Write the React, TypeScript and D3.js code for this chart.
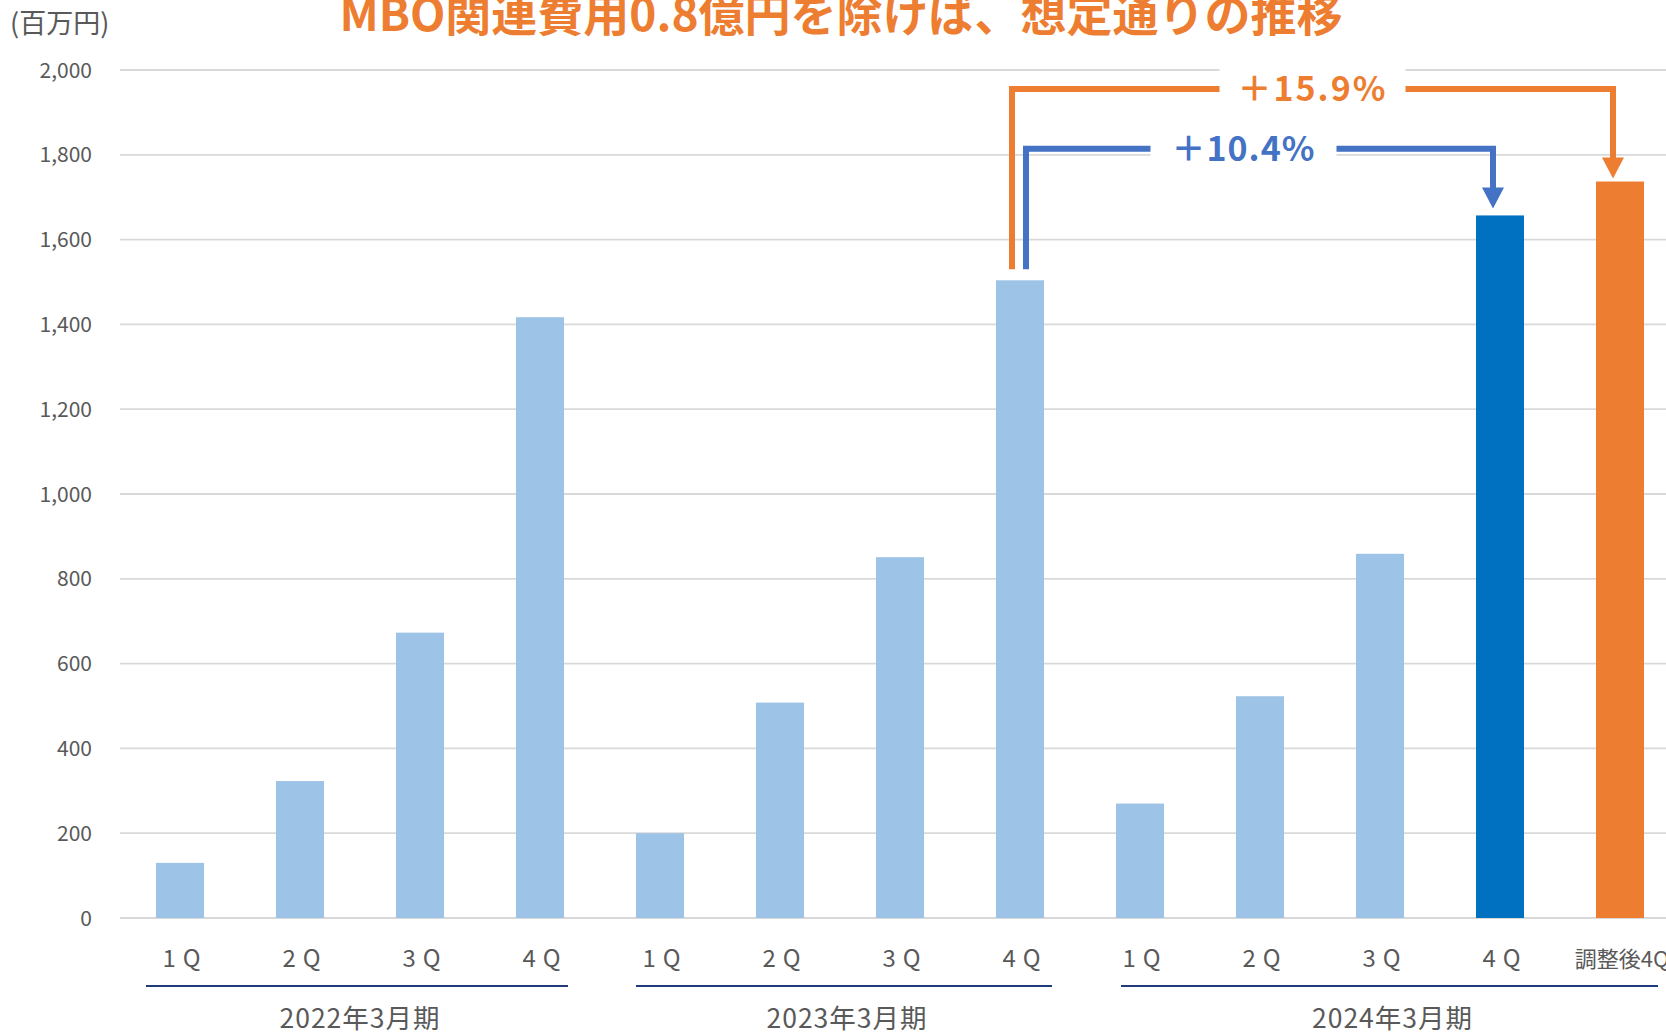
import React from 'react';
import * as d3 from 'd3';

const categories = ['1Q', '2Q', '3Q', '4Q', '1Q', '2Q', '3Q', '4Q', '1Q', '2Q', '3Q', '4Q', '調整後4Q'];
const values = [130, 323, 673, 1417, 200, 508, 851, 1504, 270, 523, 859, 1657, 1737];
const barColors = ['#9DC3E6', '#9DC3E6', '#9DC3E6', '#9DC3E6', '#9DC3E6', '#9DC3E6', '#9DC3E6', '#9DC3E6', '#9DC3E6', '#9DC3E6', '#9DC3E6', '#0070C0', '#ED7D31'];

const groupLabels = ['2022年3月期', '2023年3月期', '2024年3月期'];
const groupFirst = [0, 4, 8];
const groupLast = [3, 7, 12];

const yTicks = [0, 200, 400, 600, 800, 1000, 1200, 1400, 1600, 1800, 2000];

const annLabels = ['＋15.9%', '＋10.4%'];
const annFrom = [7, 7];
const annTo = [12, 11];
const annLevel = [1955, 1814];
const annColors = ['#ED7D31', '#4472C4'];

const title = 'MBO関連費用0.8億円を除けば、想定通りの推移';
const unitLabel = '(百万円)';

const W = 1666;
const H = 1035;
const FONT = '"Noto Sans CJK JP", "Noto Sans", sans-serif';

export default function App() {
  const x = d3
    .scaleBand<number>()
    .domain(d3.range(categories.length))
    .range([120, 1680])
    .paddingInner(0.6)
    .paddingOuter(0.3);
  const y = d3.scaleLinear().domain([0, 2000]).range([918, 70]);
  const bw = x.bandwidth();
  const cx = (i: number) => (x(i) as number) + bw / 2;

  const groupStartDx = [-10, 0, 5];
  const groupEndDx = [4, 8, 14];

  const annStartDx = [-8, 6];
  const annEndDx = [-7, -7];
  const annTipGap = [3, 7];
  const annLabelDx = [0, -16];

  return (
    <svg
      width={W}
      height={H}
      style={{ position: 'absolute', left: 0, top: 0, background: '#fff', fontFamily: FONT }}
    >
      {/* gridlines */}
      {yTicks.map((t) => (
        <line key={t} x1={120} x2={W} y1={y(t)} y2={y(t)} stroke="#D9D9D9" strokeWidth={1.8} />
      ))}
      {/* y tick labels */}
      {yTicks.map((t) => (
        <text key={'l' + t} x={92} y={y(t)} dy="0.36em" textAnchor="end" fontSize={21} fill="#595959">
          {d3.format(',')(t)}
        </text>
      ))}
      <text x={10} y={33} fontSize={27} fill="#595959">{unitLabel}</text>

      {/* bars */}
      {values.map((v, i) => (
        <rect key={i} x={x(i)} y={y(v)} width={bw} height={y(0) - y(v)} fill={barColors[i]} />
      ))}

      {/* category labels */}
      {categories.map((c, i) =>
        c.length <= 2 ? (
          <text key={'c' + i} x={cx(i) + 5} y={967} textAnchor="middle" fontSize={24} letterSpacing={7} fill="#595959">
            {c}
          </text>
        ) : (
          <text key={'c' + i} x={cx(i) + 2} y={967} textAnchor="middle" fontSize={22} fill="#595959">
            {c}
          </text>
        )
      )}

      {/* group lines and labels */}
      {groupLabels.map((g, k) => {
        const x0 = (x(groupFirst[k]) as number) + groupStartDx[k];
        const x1 = (x(groupLast[k]) as number) + bw + groupEndDx[k];
        return (
          <g key={g}>
            <line x1={x0} x2={x1} y1={986} y2={986} stroke="#1F3B7A" strokeWidth={2} />
            <text x={(x0 + x1) / 2 + 3} y={1028} textAnchor="middle" fontSize={26.5} letterSpacing={1} fill="#595959">
              {g}
            </text>
          </g>
        );
      })}

      {/* annotations */}
      {annLabels.map((lab, k) => {
        const xs = cx(annFrom[k]) + annStartDx[k];
        const xe = cx(annTo[k]) + annEndDx[k];
        const ys = y(values[annFrom[k]]) - 11;
        const yl = y(annLevel[k]);
        const yt = y(values[annTo[k]]) - annTipGap[k];
        const headH = 21;
        const headW = 11;
        const mid = (xs + xe) / 2 + annLabelDx[k];
        const c = annColors[k];
        return (
          <g key={lab}>
            <path
              d={`M${xs},${ys} L${xs},${yl} L${xe},${yl} L${xe},${yt - headH + 1}`}
              fill="none"
              stroke={c}
              strokeWidth={6}
              strokeLinejoin="miter"
            />
            <path d={`M${xe - headW},${yt - headH} L${xe + headW},${yt - headH} L${xe},${yt} Z`} fill={c} />
            <rect x={mid - 93} y={yl - 26} width={186} height={52} fill="#fff" />
            <text x={mid} y={yl + 12} textAnchor="middle" fontSize={34} fontWeight={700} letterSpacing={k === 0 ? 2 : 1} fill={c}>
              {lab}
            </text>
          </g>
        );
      })}

      {/* title */}
      <text x={841} y={31} textAnchor="middle" fontSize={46} fontWeight={700} fill="#ED7D31">
        {title}
      </text>
    </svg>
  );
}
